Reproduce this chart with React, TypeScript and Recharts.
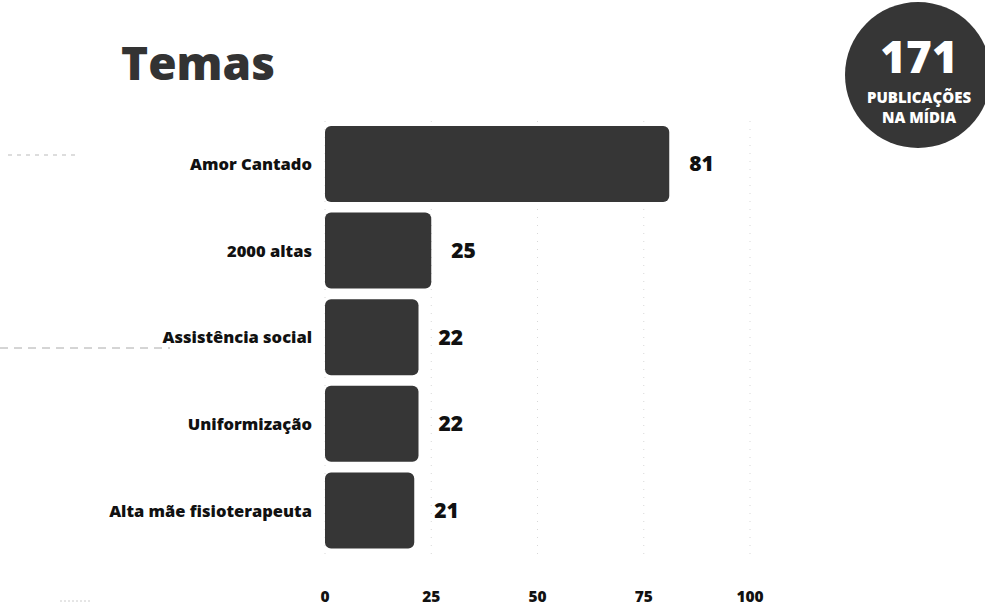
import React from 'react';
import { BarChart, Bar, XAxis, YAxis, CartesianGrid, LabelList } from 'recharts';

const categories = ['Amor Cantado', '2000 altas', 'Assistência social', 'Uniformização', 'Alta mãe fisioterapeuta'];
const values = [81, 25, 22, 22, 21];
const xTicks = [0, 25, 50, 75, 100];
const totalPublicacoes = 171;

const data = categories.map((name, i) => ({ name, value: values[i] }));

const FONT = '"Open Sans", "Noto Sans", sans-serif';

const App: React.FC = () => {
    return (
        <div style={{ position: 'absolute', left: 0, top: 0, width: 985, height: 612, background: '#fff', overflow: 'hidden', fontFamily: FONT }}>
            {/* leftover dashes on the left margin */}
            <svg width={985} height={612} style={{ position: 'absolute', left: 0, top: 0 }}>
                <line x1={8} y1={155} x2={80} y2={155} stroke="#bbb" strokeDasharray="4 5" />
                <line x1={0} y1={348} x2={170} y2={348} stroke="#aaa" strokeDasharray="8 6" />
                <line x1={60} y1={601} x2={92} y2={601} stroke="#ccc" strokeDasharray="2 2" />
            </svg>

            <div style={{ position: 'absolute', left: 121, top: 39, fontSize: 46, fontWeight: 800, color: '#333', lineHeight: 1 }}>
                Temas
            </div>

            <div style={{
                position: 'absolute', left: 845, top: 2, width: 146, height: 146, borderRadius: '50%',
                background: '#363636', color: '#fff', textAlign: 'center',
            }}>
                <div style={{ position: 'absolute', left: 0, right: -2, top: 32, fontSize: 44, fontWeight: 800, lineHeight: 1 }}>{totalPublicacoes}</div>
                <div style={{ position: 'absolute', left: 0, right: -2, top: 85, fontSize: 15, fontWeight: 800, lineHeight: '20px' }}>
                    PUBLICAÇÕES<br />NA MÍDIA
                </div>
            </div>

            <div style={{ position: 'absolute', left: 0, top: 0 }}>
                <BarChart
                    width={985}
                    height={612}
                    data={data}
                    layout="vertical"
                    margin={{ top: 121, right: 235, bottom: 0, left: 0 }}
                >
                    <CartesianGrid horizontal={false} stroke="#d8d8d8" strokeDasharray="1 7" />
                    <XAxis
                        type="number"
                        domain={[0, 100]}
                        ticks={xTicks}
                        axisLine={false}
                        tickLine={false}
                        tickSize={0}
                        tickMargin={37}
                        height={58}
                        tick={{ fill: '#111', fontSize: 15.5, fontWeight: 800, fontFamily: FONT }}
                    />
                    <YAxis
                        type="category"
                        dataKey="name"
                        width={325}
                        axisLine={false}
                        tickLine={false}
                        tickSize={0}
                        tickMargin={13}
                        tick={{ fill: '#111', fontSize: 16.5, fontWeight: 800, fontFamily: FONT }}
                    />
                    <Bar dataKey="value" fill="#363636" barSize={76} radius={6} isAnimationActive={false}>
                        <LabelList
                            dataKey="value"
                            position="right"
                            offset={20}
                            style={{ fill: '#111', fontSize: 21, fontWeight: 800, fontFamily: FONT }}
                        />
                    </Bar>
                </BarChart>
            </div>
        </div>
    );
};

export default App;
